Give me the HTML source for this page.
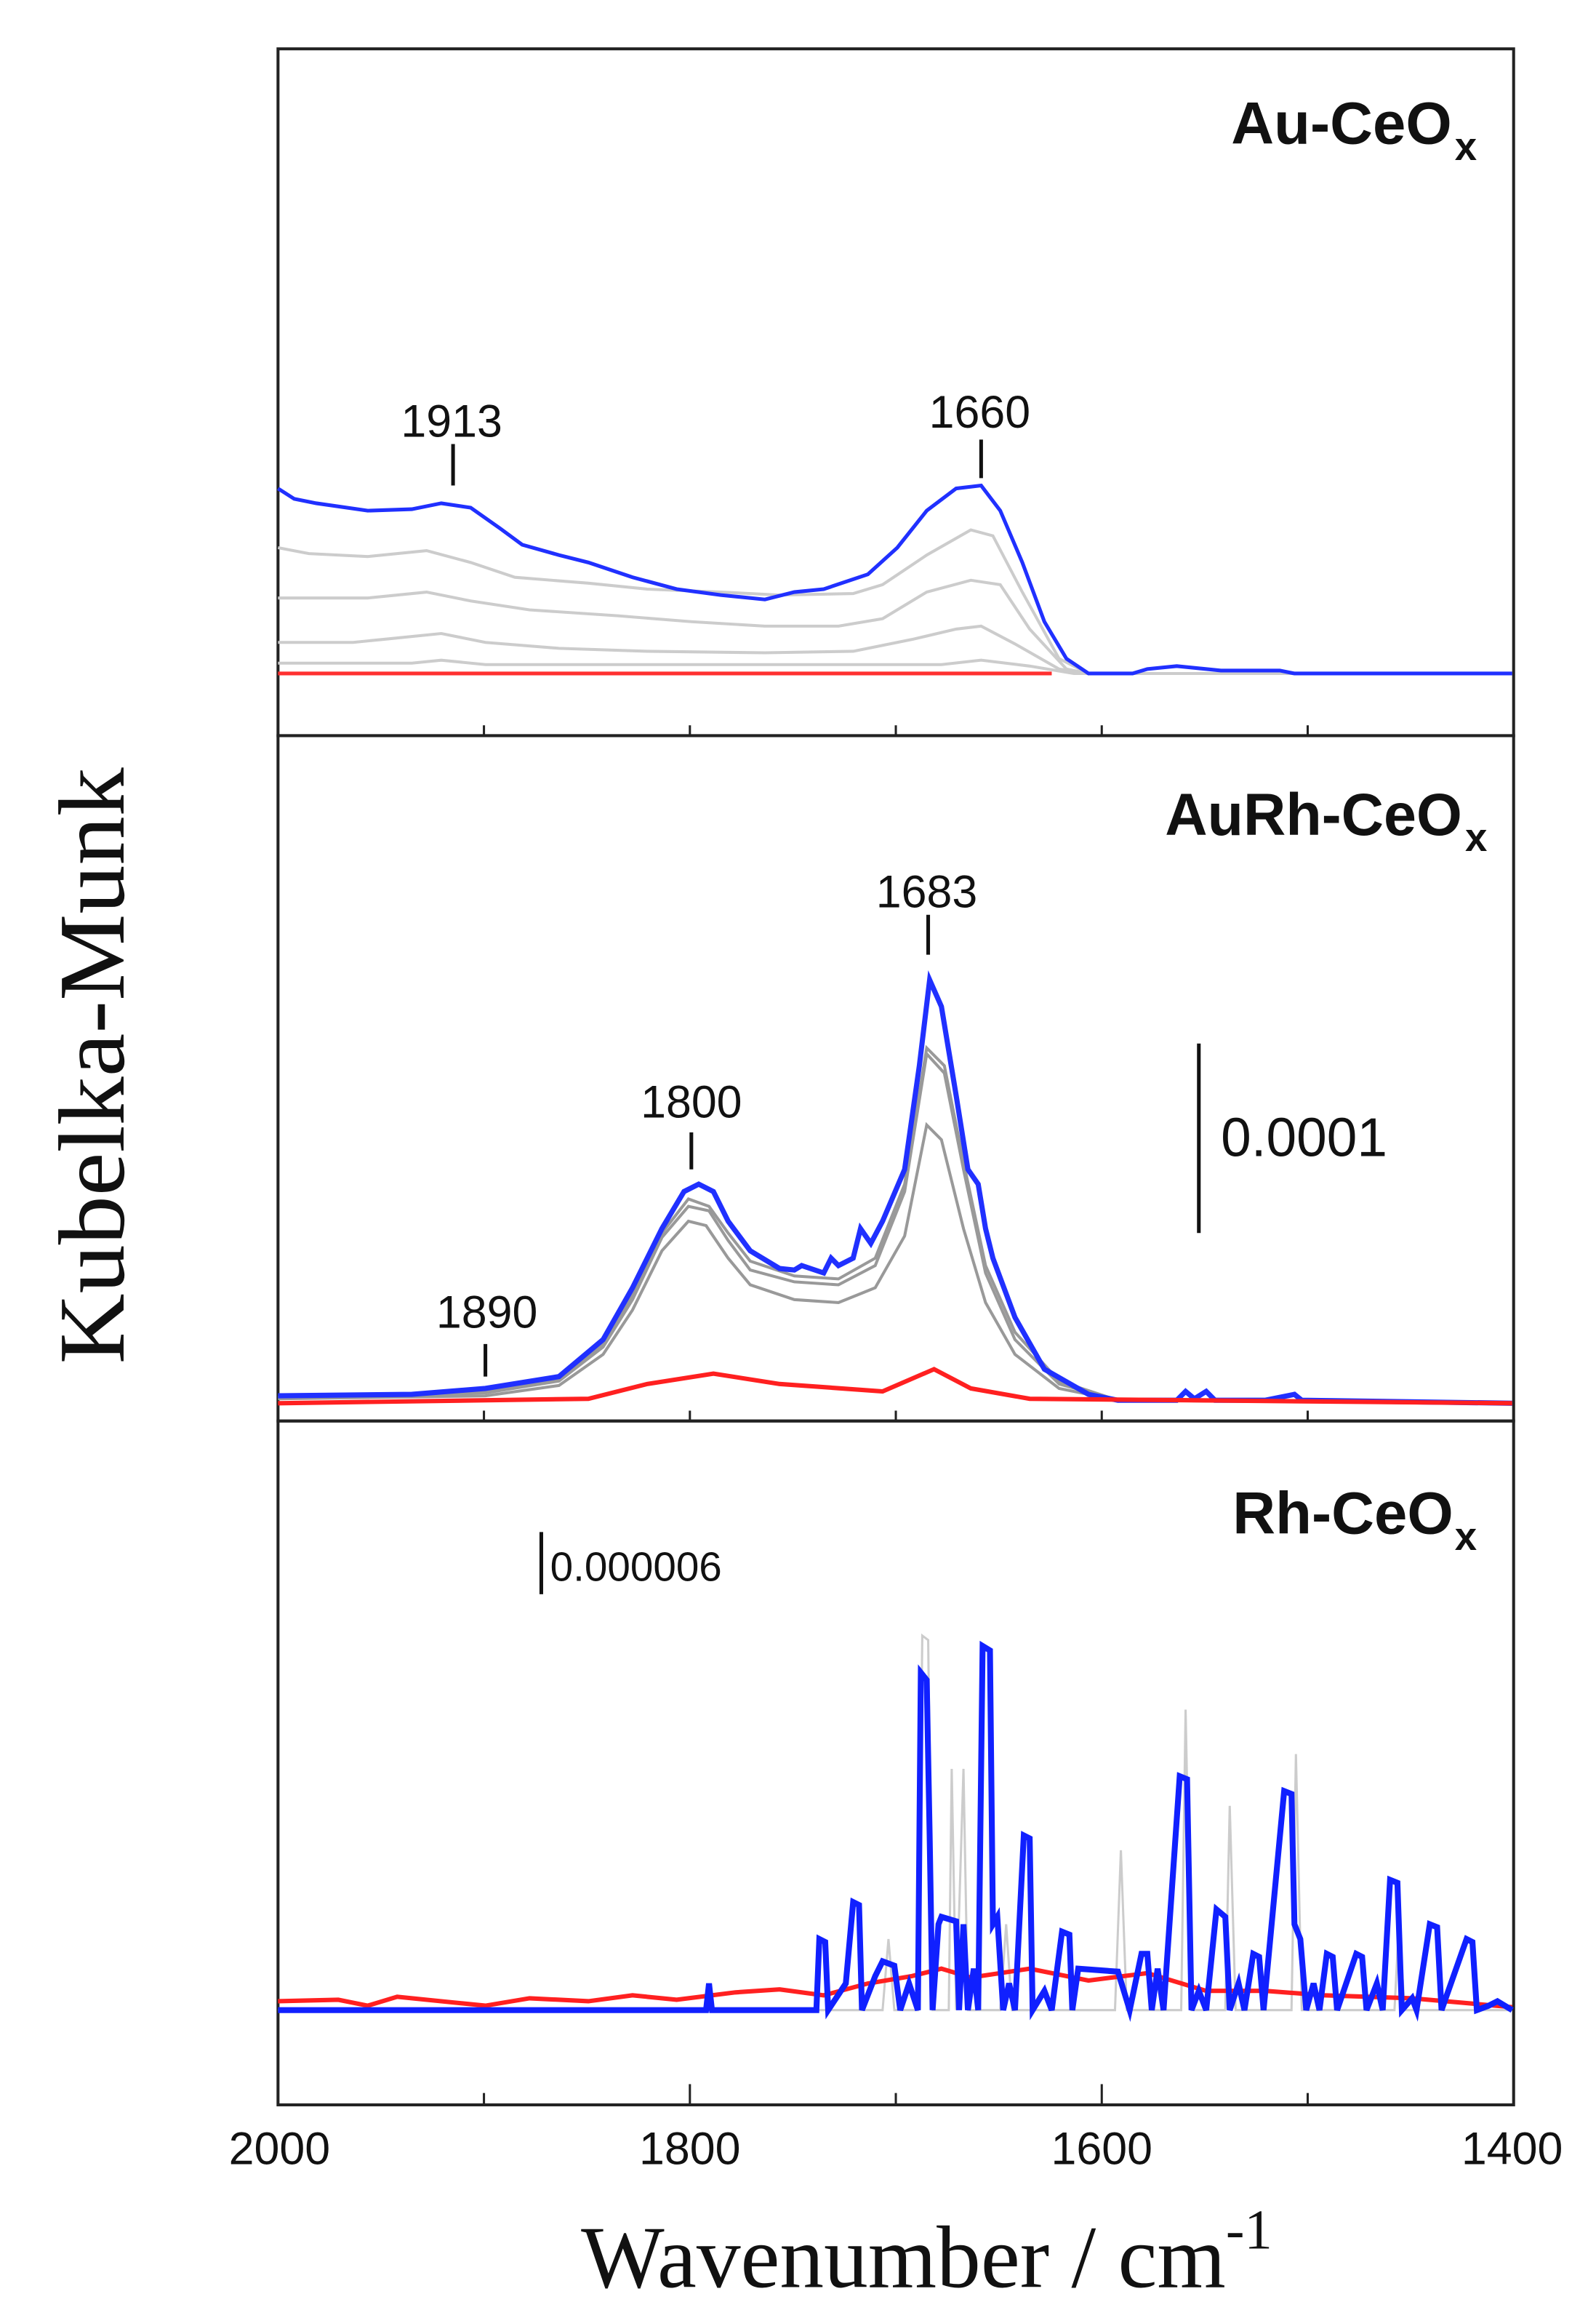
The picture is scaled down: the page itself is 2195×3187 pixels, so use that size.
<!DOCTYPE html>
<html><head><meta charset="utf-8"><style>html,body{margin:0;padding:0;background:#fff}svg{display:block}</style></head>
<body>
<svg width="2195" height="3187" viewBox="0 0 1085 1566" preserveAspectRatio="none" xmlns="http://www.w3.org/2000/svg">
<rect width="1085" height="1566" fill="#fff"/>
<g fill="none" stroke="#222" stroke-width="2">
<rect x="189" y="33" width="840" height="464"/>
<rect x="189" y="497" width="840" height="463"/>
<rect x="189" y="960" width="840" height="462"/>
</g>
<g stroke="#222" stroke-width="1.5">
<line x1="329" y1="497" x2="329" y2="490"/><line x1="469" y1="497" x2="469" y2="490"/><line x1="609" y1="497" x2="609" y2="490"/><line x1="749" y1="497" x2="749" y2="490"/><line x1="889" y1="497" x2="889" y2="490"/>
<line x1="329" y1="960" x2="329" y2="953"/><line x1="469" y1="960" x2="469" y2="953"/><line x1="609" y1="960" x2="609" y2="953"/><line x1="749" y1="960" x2="749" y2="953"/><line x1="889" y1="960" x2="889" y2="953"/>
<line x1="329" y1="1422" x2="329" y2="1414"/><line x1="469" y1="1422" x2="469" y2="1408"/><line x1="609" y1="1422" x2="609" y2="1414"/><line x1="749" y1="1422" x2="749" y2="1408"/><line x1="889" y1="1422" x2="889" y2="1414"/>
</g>
<g fill="none" stroke-width="2">
<polyline stroke="#ccc" points="189,448 280,448 300,446 330,449 640,449 667,446 700,450 730,455 1027,455"/>
<polyline stroke="#ccc" points="189,434 240,434 260,432 300,428 330,434 380,438 440,440 520,441 580,440 620,432 650,425 667,423 690,435 720,452 740,455"/>
<polyline stroke="#ccc" points="189,404 250,404 290,400 320,406 360,412 420,416 470,420 520,423 570,423 600,418 630,400 660,392 680,395 700,425 725,452 740,455"/>
<polyline stroke="#ccc" points="189,370 210,374 250,376 290,372 320,380 350,390 400,394 440,398 490,400 530,402 580,401 600,395 630,375 660,358 675,362 695,400 720,445 740,455"/>
<polyline stroke="#2030ff" stroke-width="2.5" points="189,330 200,337 215,340 250,345 280,344 300,340 320,343 340,357 355,368 380,375 400,380 430,390 460,398 490,402 520,405 540,400 560,398 590,388 610,370 630,345 650,330 667,328 680,345 695,380 710,420 725,445 740,455 770,455 780,452 800,450 830,453 870,453 880,455 1028,455"/>
<line stroke="#ff3030" stroke-width="2.5" x1="189" y1="455" x2="715" y2="455"/>
</g>
<g stroke="#111" stroke-width="2.5"><line x1="308" y1="300" x2="308" y2="328"/><line x1="667" y1="297" x2="667" y2="323"/></g>
<g font-family="Liberation Sans, sans-serif" font-size="31" fill="#111" text-anchor="middle">
<text x="307" y="295">1913</text><text x="666" y="289">1660</text>
</g>
<text x="837" y="97" font-family="Liberation Sans, sans-serif" font-weight="bold" font-size="40" fill="#111" textLength="150" lengthAdjust="spacingAndGlyphs">Au-CeO</text><text x="989" y="108" font-family="Liberation Sans, sans-serif" font-weight="bold" font-size="27" fill="#111">x</text>
<g fill="none" stroke-width="2">
<polyline stroke="#999" points="189,945 330,943 380,936 410,915 430,885 450,845 468,825 480,828 495,850 510,868 540,878 570,880 595,870 615,835 630,760 640,770 655,830 670,880 690,915 720,938 760,946 1027,948"/>
<polyline stroke="#999" points="189,944 330,941 380,933 410,910 430,878 450,836 468,815 482,818 495,838 510,858 540,866 570,868 595,855 615,805 630,712 642,725 655,790 670,860 690,905 720,935 760,946 1027,948"/>
<polyline stroke="#999" points="189,944 330,940 380,932 410,908 430,875 450,833 468,810 482,815 495,833 510,852 540,862 570,864 595,850 615,800 630,708 642,720 655,785 670,855 690,900 720,933 760,946 1027,948"/>
<polyline stroke="#2030ff" stroke-width="3.5" points="189,943 280,942 330,938 380,930 410,905 430,870 450,830 465,805 475,800 485,805 495,825 510,845 530,857 540,858 545,855 560,860 565,850 570,855 580,850 585,830 592,840 600,825 615,790 625,720 632,662 640,680 650,740 658,790 665,800 670,830 675,850 690,890 710,925 740,942 760,946 800,946 806,940 812,945 820,940 826,946 860,946 880,942 885,946 1028,948"/>
<polyline stroke="#ff2020" stroke-width="3" points="189,948 400,945 440,935 485,928 530,935 600,940 635,925 660,938 700,945 1028,948"/>
</g>
<g stroke="#111" stroke-width="2.5"><line x1="631" y1="618" x2="631" y2="645"/><line x1="470" y1="765" x2="470" y2="790"/><line x1="330" y1="908" x2="330" y2="930"/><line x1="815" y1="705" x2="815" y2="833"/></g>
<g font-family="Liberation Sans, sans-serif" font-size="31" fill="#111" text-anchor="middle">
<text x="630" y="613">1683</text><text x="470" y="755">1800</text><text x="331" y="897">1890</text>
</g>
<text x="830" y="781" font-family="Liberation Sans, sans-serif" font-size="37" fill="#111">0.0001</text>
<text x="792" y="564" font-family="Liberation Sans, sans-serif" font-weight="bold" font-size="40" fill="#111" textLength="202" lengthAdjust="spacingAndGlyphs">AuRh-CeO</text><text x="996" y="575" font-family="Liberation Sans, sans-serif" font-weight="bold" font-size="27" fill="#111">x</text>
<g fill="none" stroke-width="1.5">
<polyline stroke="#ccc" points="189,1358 600,1358 604,1310 608,1358 624,1358 627,1105 631,1108 634,1358 645,1358 647,1195 650,1358 655,1195 658,1358 680,1358 684,1300 688,1358 758,1358 762,1250 766,1358 803,1358 806,1155 810,1358 833,1358 836,1220 840,1358 878,1358 881,1185 885,1358 948,1358 951,1300 955,1358 1027,1358"/>
<polyline stroke="#ff2020" stroke-width="3" points="189,1352 230,1351 250,1355 270,1349 300,1352 330,1355 360,1350 400,1352 430,1348 460,1351 500,1346 530,1344 560,1348 590,1340 620,1335 640,1330 660,1336 700,1330 740,1338 780,1333 820,1345 860,1345 900,1348 960,1350 1028,1356"/>
<polyline stroke="#1020ff" stroke-width="4" points="189,1358 480,1358 482,1340 484,1358 555,1358 557,1310 561,1312 563,1358 575,1340 580,1285 584,1287 586,1358 595,1335 600,1325 608,1328 612,1358 618,1340 624,1358 626,1130 630,1135 632,1240 634,1358 638,1300 640,1295 650,1298 652,1358 655,1300 658,1358 662,1330 665,1358 668,1112 673,1115 675,1300 678,1295 682,1358 686,1340 690,1358 696,1240 700,1242 702,1358 710,1345 715,1358 722,1305 727,1307 729,1358 733,1330 760,1332 768,1358 776,1320 780,1320 783,1358 787,1330 791,1358 802,1200 807,1202 810,1358 815,1345 820,1358 827,1290 833,1295 836,1358 842,1340 846,1358 852,1320 856,1322 859,1358 873,1210 878,1212 880,1300 884,1310 888,1358 893,1340 897,1358 902,1320 906,1322 909,1358 922,1320 926,1322 929,1358 936,1340 940,1358 945,1270 950,1272 953,1358 960,1350 963,1358 972,1300 977,1302 980,1358 997,1310 1001,1312 1004,1358 1012,1355 1018,1352 1028,1358"/>
</g>
<line x1="368" y1="1035" x2="368" y2="1077" stroke="#111" stroke-width="2.5"/>
<text x="374" y="1068" font-family="Liberation Sans, sans-serif" font-size="28" fill="#111">0.000006</text>
<text x="838" y="1036" font-family="Liberation Sans, sans-serif" font-weight="bold" font-size="40" fill="#111" textLength="150" lengthAdjust="spacingAndGlyphs">Rh-CeO</text><text x="989" y="1047" font-family="Liberation Sans, sans-serif" font-weight="bold" font-size="27" fill="#111">x</text>
<g font-family="Liberation Sans, sans-serif" font-size="31" fill="#111" text-anchor="middle">
<text x="190" y="1462">2000</text><text x="469" y="1462">1800</text><text x="749" y="1462">1600</text><text x="1028" y="1462">1400</text>
</g>
<text x="630" y="1545" text-anchor="middle" font-family="Liberation Serif, serif" font-size="60" fill="#111">Wavenumber / cm<tspan font-size="38" dy="-26">-1</tspan></text>
<text transform="translate(84,720) rotate(-90)" text-anchor="middle" font-family="Liberation Serif, serif" font-size="64" fill="#111" textLength="403" lengthAdjust="spacingAndGlyphs">Kubelka-Munk</text>
</svg>
</body></html>
